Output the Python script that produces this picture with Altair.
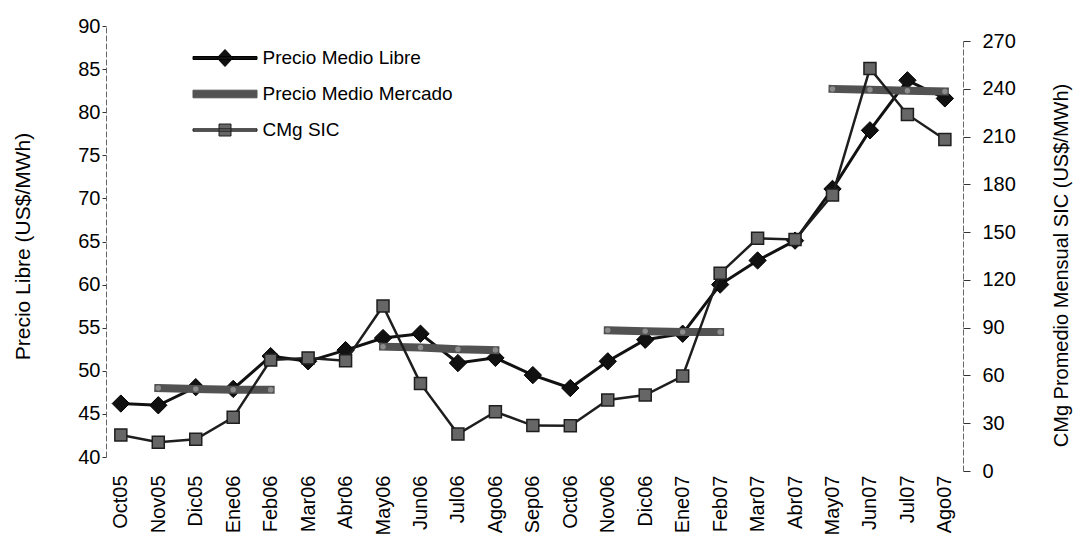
import altair as alt
import pandas as pd

meses = ["Oct05", "Nov05", "Dic05", "Ene06", "Feb06", "Mar06", "Abr06", "May06",
         "Jun06", "Jul06", "Ago06", "Sep06", "Oct06", "Nov06", "Dic06", "Ene07",
         "Feb07", "Mar07", "Abr07", "May07", "Jun07", "Jul07", "Ago07"]

precio_libre = [46.2, 46.0, 48.1, 47.9, 51.7, 51.1, 52.4, 53.8, 54.3, 50.9, 51.5, 49.5,
                48.0, 51.1, 53.6, 54.3, 60.0, 62.8, 65.1, 71.1, 77.9, 83.7, 81.6]

cmg_sic = [22.6, 18.0, 19.9, 33.7, 69.7, 71.0, 69.2, 103.6, 55.0, 23.2, 37.2, 28.5,
           28.4, 44.6, 47.7, 59.6, 124.1, 146.1, 145.4, 173.3, 252.8, 223.9, 208.2]

# Precio Medio Mercado: four tramos (segment id, month, value)
mercado_tramo = [1, 1, 1, 1, 2, 2, 2, 2, 3, 3, 3, 3, 4, 4, 4, 4]
mercado_mes = ["Nov05", "Dic05", "Ene06", "Feb06",
               "May06", "Jun06", "Jul06", "Ago06",
               "Nov06", "Dic06", "Ene07", "Feb07",
               "May07", "Jun07", "Jul07", "Ago07"]
mercado_valor = [48.0, 47.9, 47.8, 47.8,
                 52.8, 52.7, 52.5, 52.4,
                 54.7, 54.6, 54.5, 54.5,
                 82.7, 82.6, 82.5, 82.4]

series = ["Precio Medio Libre", "Precio Medio Mercado", "CMg SIC"]

left_ticks = [40, 45, 50, 55, 60, 65, 70, 75, 80, 85, 90]
right_ticks = [0, 30, 60, 90, 120, 150, 180, 210, 240, 270]

FONT = "Liberation Sans"
MERC = "#525252"

df_libre = pd.DataFrame({"mes": meses, "valor": precio_libre, "idx": range(len(meses))})
df_cmg = pd.DataFrame({"mes": meses, "valor": cmg_sic, "idx": range(len(meses))})
df_merc = pd.DataFrame({"mes": mercado_mes, "valor": mercado_valor, "tramo": mercado_tramo,
                        "idx": [meses.index(m) for m in mercado_mes]})
df_leg = pd.DataFrame({"serie": series})

x_enc = alt.X("mes:O", sort=meses,
              scale=alt.Scale(type="point", padding=0.44, align=0.45),
              axis=alt.Axis(title=None, labelAngle=270, labelAlign="right",
                            labelBaseline="middle", labelPadding=18, ticks=False,
                            domain=False, labelFont=FONT, labelFontSize=20,
                            labelColor="black"))

y_left = alt.Y("valor:Q",
               scale=alt.Scale(domain=[40, 90], nice=False, zero=False),
               axis=alt.Axis(title="Precio Libre (US$/MWh)", values=left_ticks,
                             grid=False, tickSize=4, tickColor="#333",
                             domainColor="#666", domainDash=[6, 2],
                             labelPadding=2, labelFont=FONT, labelFontSize=20,
                             labelColor="black", titleFont=FONT, titleFontSize=21,
                             titleFontWeight="normal", titleColor="black",
                             titleX=-83, titleY=220, titleAngle=270,
                             titleBaseline="middle", titleAlign="center"))

y_right = alt.Y("valor:Q",
                scale=alt.Scale(domain=[0, 270], nice=False, range=[445, 15]),
                axis=alt.Axis(title="CMg Promedio Mensual SIC (US$/MWh)", orient="right",
                              values=right_ticks, grid=False, tickSize=7,
                              tickColor="#333", domainColor="#666", domainDash=[6, 2],
                              labelPadding=12, labelFont=FONT, labelFontSize=20,
                              labelColor="black", titleFont=FONT, titleFontSize=20,
                              titleFontWeight="normal", titleColor="black",
                              titleX=98, titleY=239, titleAngle=270,
                              titleBaseline="middle", titleAlign="center"))

order_enc = alt.Order("idx:Q")

libre_line = alt.Chart(df_libre).mark_line(color="#111", strokeWidth=3).encode(
    x=x_enc, y=y_left, order=order_enc)
libre_pts = alt.Chart(df_libre).mark_point(shape="diamond", filled=True, size=300,
                                           color="#111", stroke="#000", strokeWidth=1,
                                           opacity=1).encode(x=x_enc, y=y_left)

merc_line = alt.Chart(df_merc).mark_line(color=MERC, strokeWidth=8,
                                         strokeCap="square").encode(
    x=x_enc, y=y_left, detail="tramo:N", order=order_enc)
merc_pts = alt.Chart(df_merc).mark_point(shape="circle", filled=True, size=30,
                                         color="#8c8c8c", opacity=1).encode(
    x=x_enc, y=y_left)

legend = alt.Legend(title=None, orient="none", legendX=130.5, legendY=21.5,
                    symbolSize=400, symbolStrokeWidth=1, symbolOpacity=1,
                    labelFont=FONT, labelFontSize=19, labelColor="black",
                    labelOffset=5, rowPadding=15, padding=0, labelLimit=0)

leg_paths = [
    "M-5.4,-0.15H1V0.15H-5.4Z M-2.2,-0.85L-1.4,0L-2.2,0.85L-3.0,0Z",
    "M-5.4,-0.38H1V0.38H-5.4Z",
    "M-5.4,-0.12H1V0.12H-5.4Z M-2.8,-0.6H-1.6V0.6H-2.8Z",
]
leg_fill = ["#111", MERC, "#666"]
leg_stroke = ["#000", MERC, "#1e1e1e"]

legend_layer = alt.Chart(df_leg).mark_point(filled=True, opacity=0).encode(
    shape=alt.Shape("serie:N", scale=alt.Scale(domain=series, range=leg_paths), legend=legend),
    fill=alt.Fill("serie:N", scale=alt.Scale(domain=series, range=leg_fill), legend=legend),
    stroke=alt.Stroke("serie:N", scale=alt.Scale(domain=series, range=leg_stroke), legend=legend),
)

cmg_line = alt.Chart(df_cmg).mark_line(color="#1e1e1e", strokeWidth=2.5).encode(
    x=x_enc, y=y_right, order=order_enc)
cmg_pts = alt.Chart(df_cmg).mark_point(shape="square", filled=True, size=144,
                                       color="#666", stroke="#1e1e1e", strokeWidth=1.5,
                                       opacity=1).encode(x=x_enc, y=y_right)

left = alt.layer(libre_line, libre_pts, merc_line, merc_pts, legend_layer)
right = alt.layer(cmg_line, cmg_pts)

chart = alt.layer(left, right).resolve_scale(
    y="independent", shape="independent", fill="independent", stroke="independent"
).properties(
    width=857, height=431,
    autosize=alt.AutoSizeParams(type="none"),
    padding={"left": 106, "top": 26, "right": 112, "bottom": 90},
    background="white",
).configure_view(stroke=None)

chart.save("out.html", embed_options={"renderer": "svg", "actions": False})
